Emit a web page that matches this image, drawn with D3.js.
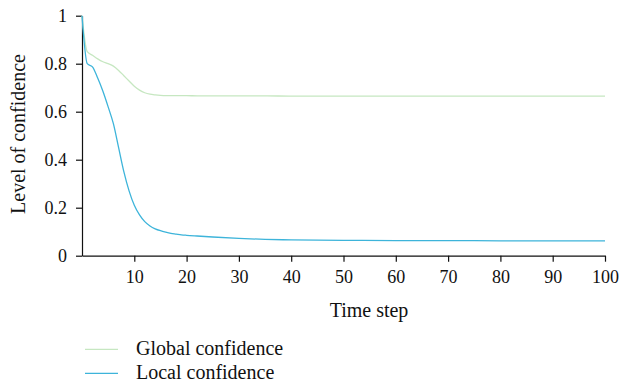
<!DOCTYPE html>
<html><head><meta charset="utf-8">
<script src="https://cdn.jsdelivr.net/npm/d3@7"></script>
<style>body{margin:0;background:#fff}svg{display:block}text{font-family:"Liberation Serif","DejaVu Serif",serif}</style>
</head><body>
<script>
const steps = [0,1,2,3,4,5,6,7,8,9,10,11,12,13,14,15,16,17,18,19,20,22,25,30,35,40,50,60,70,80,90,100];
const globalConf = [1,0.85,0.835,0.82,0.808,0.80,0.79,0.772,0.75,0.728,0.706,0.69,0.679,0.673,0.670,0.668,0.667,0.667,0.667,0.667,0.667,0.666,0.666,0.666,0.666,0.665,0.665,0.665,0.665,0.665,0.665,0.665];
const localConf = [1,0.80,0.787,0.74,0.685,0.62,0.55,0.45,0.35,0.27,0.21,0.17,0.142,0.124,0.112,0.104,0.098,0.093,0.090,0.087,0.085,0.082,0.078,0.072,0.068,0.066,0.064,0.063,0.063,0.062,0.062,0.062];
const xTicks = [10,20,30,40,50,60,70,80,90,100];
const yTicks = [0,0.2,0.4,0.6,0.8,1];
const seriesNames = ["Global confidence","Local confidence"];
const colors = ["#c6e7c1","#3db4da"];

const FONT='"Liberation Serif","DejaVu Serif",serif';
const W=621,H=383;
const svg=d3.select("body").append("svg").attr("width",W).attr("height",H);
const x=d3.scaleLinear().domain([0,100]).range([82,605]);
const y=d3.scaleLinear().domain([0,1]).range([255.7,15.7]);

const xAxis=svg.append("g").attr("transform",`translate(0,${y(0)})`)
  .call(d3.axisBottom(x).tickValues(xTicks).tickSize(6).tickPadding(9).tickSizeOuter(0));
const yAxis=svg.append("g").attr("transform",`translate(${x(0)},0)`)
  .call(d3.axisLeft(y).tickValues(yTicks).tickFormat(d=>d===0?"0":d===1?"1":d3.format(".1f")(d)).tickSize(6).tickPadding(9).tickSizeOuter(0));
[xAxis,yAxis].forEach(g=>{
  g.attr("font-family",FONT).attr("font-size",18);
  g.selectAll("text").attr("fill","#111");
  g.selectAll("path,line").attr("stroke","#111").attr("stroke-width",1.2);
});

const data=[globalConf,localConf];
const line=d3.line().x((d,i)=>x(steps[i])).y(d=>y(d)).curve(d3.curveMonotoneX);
data.forEach((s,k)=>{
  svg.append("path").datum(s).attr("d",line).attr("fill","none").attr("stroke",colors[k]).attr("stroke-width",1.3);
});

svg.append("text").attr("x",369).attr("y",316.5).attr("text-anchor","middle").attr("font-size",20).attr("fill","#111").text("Time step");
svg.append("text").attr("transform","translate(24.5,134) rotate(-90)").attr("text-anchor","middle").attr("font-size",20).attr("fill","#111").text("Level of confidence");

const lg=svg.append("g");
seriesNames.forEach((n,k)=>{
  const yy=349.3+k*24;
  lg.append("line").attr("x1",85).attr("x2",118).attr("y1",yy).attr("y2",yy).attr("stroke",colors[k]).attr("stroke-width",1.3);
  lg.append("text").attr("x",136).attr("y",yy+6).attr("font-size",20).attr("fill","#111").text(n);
});
</script>
</body></html>
